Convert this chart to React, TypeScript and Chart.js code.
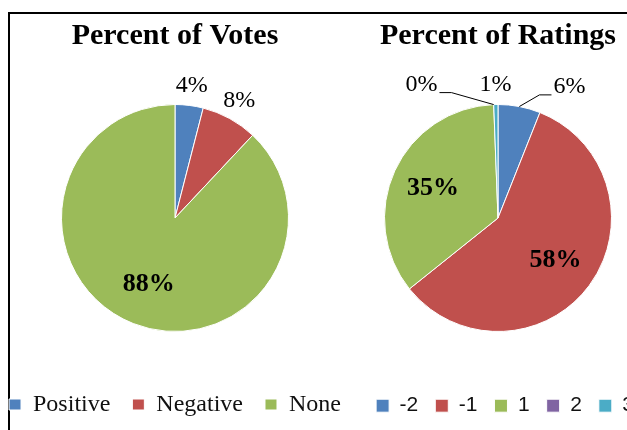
import React, { useEffect, useRef } from 'react';
import { Chart, registerables } from 'chart.js';

Chart.register(...registerables);

// ---- Data ----
const votesTitle = 'Percent of Votes';
const votesLabels = ['Positive', 'Negative', 'None'];
const votesValues = [4, 8, 88];
const votesColors = ['#4F81BD', '#C0504D', '#9BBB59'];

const ratingsTitle = 'Percent of Ratings';
const ratingsLabels = ['-2', '-1', '1', '2', '3'];
const ratingsValues = [6, 58, 35, 0, 0.6];
const ratingsColors = ['#4F81BD', '#C0504D', '#9BBB59', '#8064A2', '#4BACC6'];

const SERIF = '"Liberation Serif", "Times New Roman", serif';
const SANS = '"Liberation Sans", Arial, sans-serif';

const pieLabelPlugin = {
  id: 'pieLabels',
  afterDatasetsDraw(chart: any) {
    const ctx = chart.ctx as CanvasRenderingContext2D;
    const meta = chart.getDatasetMeta(0);
    const data = chart.data.datasets[0].data as number[];
    const total = data.reduce((a: number, b: number) => a + b, 0);
    const outside: any[] = [];
    const placed: any[] = [];
    ctx.save();
    ctx.textAlign = 'center';
    ctx.textBaseline = 'middle';
    ctx.fillStyle = '#000';
    meta.data.forEach((arc: any, i: number) => {
      const p = arc.getProps(['x', 'y', 'startAngle', 'endAngle', 'outerRadius'], true);
      const mid = (p.startAngle + p.endAngle) / 2;
      const frac = data[i] / total;
      const text = Math.round(frac * 100) + '%';
      if (frac >= 0.1) {
        ctx.font = `bold 26px ${SERIF}`;
        const r = p.outerRadius * 0.63;
        ctx.fillText(text, p.x + Math.cos(mid) * r, p.y + Math.sin(mid) * r);
      } else {
        outside.push({ p, mid, text });
      }
    });
    ctx.font = `24px ${SERIF}`;
    const GAP = 42;
    outside.reverse().forEach((o) => {
      const R = o.p.outerRadius;
      const r = R + 20;
      let cx = o.p.x + Math.cos(o.mid) * r;
      const cy = o.p.y + Math.sin(o.mid) * r;
      const w = ctx.measureText(o.text).width;
      const dir = Math.cos(o.mid) >= 0 ? 1 : -1;
      let shifted = false;
      for (const b of placed) {
        if (Math.abs(cx - b.cx) < (w + b.w) / 2 && Math.abs(cy - b.cy) < 18) {
          cx = dir > 0 ? b.cx + b.w / 2 + GAP + w / 2 : b.cx - b.w / 2 - GAP - w / 2;
          shifted = true;
        }
      }
      placed.push({ cx, cy, w });
      ctx.fillText(o.text, cx, cy);
      if (shifted) {
        const ex = o.p.x + Math.cos(o.mid) * R;
        const ey = o.p.y + Math.sin(o.mid) * R;
        const lx = dir > 0 ? cx - w / 2 - 2 : cx + w / 2 + 2;
        const ly = cy + 8;
        ctx.beginPath();
        ctx.strokeStyle = '#000';
        ctx.lineWidth = 1;
        ctx.moveTo(ex, ey);
        ctx.lineTo(lx - dir * 12, ly);
        ctx.lineTo(lx, ly);
        ctx.stroke();
      }
    });
    ctx.restore();
  },
};

function makeConfig(
  title: string,
  labels: string[],
  values: number[],
  colors: string[],
  opts: { titleBottom: number; legendFont: any; boxW: number; boxH: number; pad: number; align: string; layoutBottom: number }
): any {
  return {
    type: 'pie',
    data: {
      labels,
      datasets: [
        {
          data: values,
          backgroundColor: colors,
          borderColor: '#ffffff',
          borderWidth: 1,
        },
      ],
    },
    options: {
      responsive: false,
      maintainAspectRatio: false,
      devicePixelRatio: 1,
      animation: false,
      events: [],
      radius: 113.5,
      layout: { padding: { top: 0, left: 0, right: 0, bottom: opts.layoutBottom } },
      plugins: {
        tooltip: { enabled: false },
        title: {
          display: true,
          text: title,
          color: '#000',
          font: { family: SERIF, size: 30, weight: 'bold', lineHeight: 1.2 },
          padding: { top: 18, bottom: opts.titleBottom },
        },
        legend: {
          display: true,
          position: 'bottom',
          align: opts.align,
          labels: {
            color: '#111',
            font: opts.legendFont,
            boxWidth: opts.boxW,
            boxHeight: opts.boxH,
            padding: opts.pad,
          },
        },
      },
    },
    plugins: [pieLabelPlugin],
  };
}

export default function App() {
  const leftRef = useRef<HTMLCanvasElement>(null);
  const rightRef = useRef<HTMLCanvasElement>(null);

  useEffect(() => {
    const c1 = new Chart(
      leftRef.current as HTMLCanvasElement,
      makeConfig(votesTitle, votesLabels, votesValues, votesColors, {
        titleBottom: 11.5,
        legendFont: { family: SERIF, size: 24 },
        boxW: 12,
        boxH: 11,
        pad: 22,
        align: 'center',
        layoutBottom: 3.5,
      })
    );
    const c2 = new Chart(
      rightRef.current as HTMLCanvasElement,
      makeConfig(ratingsTitle, ratingsLabels, ratingsValues, ratingsColors, {
        titleBottom: 3.8,
        legendFont: { family: SANS, size: 21 },
        boxW: 13,
        boxH: 13,
        pad: 17,
        align: 'end',
        layoutBottom: 3.8,
      })
    );
    return () => {
      c1.destroy();
      c2.destroy();
    };
  }, []);

  return (
    <div
      style={{
        position: 'absolute',
        left: 0,
        top: 0,
        width: 627,
        height: 430,
        overflow: 'hidden',
        background: '#fff',
      }}
    >
      <div
        style={{
          position: 'absolute',
          left: 8,
          top: 12,
          width: 700,
          height: 500,
          borderLeft: '2px solid #000',
          borderTop: '2px solid #000',
        }}
      />
      <canvas
        ref={leftRef}
        width={420}
        height={430}
        style={{ position: 'absolute', left: -35, top: 0, width: 420, height: 430 }}
      />
      <canvas
        ref={rightRef}
        width={306}
        height={430}
        style={{ position: 'absolute', left: 345, top: 0, width: 306, height: 430 }}
      />
    </div>
  );
}
